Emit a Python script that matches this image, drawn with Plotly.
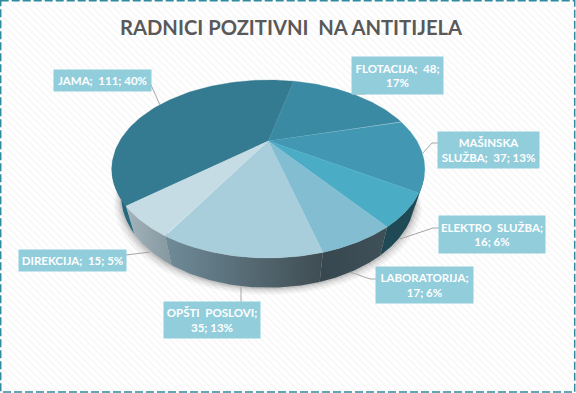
import numpy as np
import plotly.graph_objects as go

categories = ["JAMA", "FLOTACIJA", "MAŠINSKA SLUŽBA", "ELEKTRO SLUŽBA", "LABORATORIJA", "OPŠTI POSLOVI", "DIREKCIJA"]
values = [111, 48, 37, 16, 17, 35, 15]
percents = [40, 17, 13, 6, 6, 13, 5]
top_colors = ["#347A90", "#3A8AA3", "#4298B3", "#4BACC6", "#82BDD1", "#A8CDDB", "#C5DCE5"]
side_left = ["#1F5F73", "#1F5F73", "#1F4A55", "#1F4A55", "#36474F", "#6F8C99", "#A3B4BB"]
side_right = ["#2A7088", "#1F5F73", "#1F4A55", "#1F4A55", "#3F5058", "#3F4C52", "#85979F"]
label_text = ["JAMA;  111; 40%", "FLOTACIJA;  48;<br>17%", "MAŠINSKA<br>SLUŽBA;  37; 13%",
              "ELEKTRO  SLUŽBA;<br>16; 6%", "LABORATORIJA;<br>17; 6%", "OPŠTI  POSLOVI;<br>35; 13%",
              "DIREKCIJA;  15; 5%"]
label_boxes = [(54, 151, 70, 91), (352, 443, 57, 94), (438, 539, 132, 168), (439, 545, 216, 253),
               (376, 473, 267, 303), (164, 260, 302, 338), (19, 126, 250, 271)]
leaders = [[(151, 85), (160, 105)], [(352, 94), (365, 94)], [(438, 143), (432, 143), (422, 154)],
           [(439, 228), (433, 228), (400, 239)], [(376, 279), (370, 279), (350, 272)],
           [(241, 302), (241, 286)], [(126, 255), (150, 252)]]

CX, CY, A, B, K = 268.3, 141.0, 148.6, 80.2, -0.3146
START = -130.3
VIS = (112.0, 254.0)


def rim(deg):
    t = np.radians(deg)
    u, v = np.sin(t), -np.cos(t)
    d = 1 + K * v
    return CX + A * u / d, CY + B * v / d


def low(deg):
    x, y = rim(deg)
    return CX + 0.94 * (x - CX), y + 29 + (y - 235) * 0.03


fig = go.Figure()
W, H = 576, 393
# patterned chart background
fig.add_trace(go.Scatter(x=[0, W, W, 0, 0], y=[0, 0, H, H, 0], mode="lines", line=dict(width=0), fill="toself",
                         fillcolor="white",
                         fillpattern=dict(shape="\\", size=5, solidity=0.45, fgcolor="#F2F2F2", bgcolor="#FFFFFF"),
                         hoverinfo="skip", showlegend=False))

sweeps = np.array(values) / sum(values) * 360
bounds = START + np.concatenate([[0], np.cumsum(sweeps)])
arc = np.linspace(VIS[0], VIS[1], 120)

# soft shadow under the pie
for grow, alpha in [(7, 0.05), (5, 0.07), (3, 0.09), (1.5, 0.12)]:
    lx, ly = low(arc)
    fig.add_trace(go.Scatter(x=np.r_[CX + (lx - CX) * (1 + grow / 150), lx[::-1]],
                             y=np.r_[ly + grow, ly[::-1] - 30], mode="lines", line=dict(width=0), fill="toself",
                             fillcolor=f"rgba(60,60,60,{alpha})", hoverinfo="skip", showlegend=False))

# side wall of the slices
for i in range(len(values)):
    a0, a1 = bounds[i], bounds[i + 1]
    for s in (0, 360):
        lo, hi = max(a0 + s, VIS[0]), min(a1 + s, VIS[1])
        if hi <= lo:
            continue
        t = np.linspace(lo, hi, 50)
        tx, ty = rim(t)
        bx, by = low(t)
        fig.add_trace(go.Scatter(x=np.r_[tx, bx[::-1]], y=np.r_[ty, by[::-1]], mode="lines", line=dict(width=0),
                                 fill="toself", fillcolor=side_right[i],
                                 fillgradient=dict(type="horizontal",
                                                   colorscale=[[0, side_left[i]], [1, side_right[i]]]),
                                 hoverinfo="skip", showlegend=False))

# top faces
for i, name in enumerate(categories):
    t = np.linspace(bounds[i], bounds[i + 1], 90)
    x, y = rim(t)
    fig.add_trace(go.Scatter(x=np.r_[CX, x, CX], y=np.r_[CY, y, CY], mode="lines", line=dict(width=0.3, color=top_colors[i]),
                             fill="toself", fillcolor=top_colors[i], name=name, showlegend=False,
                             hovertext=f"{name}: {values[i]}; {percents[i]}%", hoverinfo="text"))

# leader lines
for pts in leaders:
    fig.add_trace(go.Scatter(x=[p[0] for p in pts], y=[p[1] for p in pts], mode="lines",
                             line=dict(color="#A6A6A6", width=1), hoverinfo="skip", showlegend=False))

# data labels
for txt, (x0, x1, y0, y1) in zip(label_text, label_boxes):
    fig.add_annotation(x=(x0 + x1) / 2, y=(y0 + y1) / 2, text=txt, showarrow=False, width=x1 - x0, height=y1 - y0,
                       bgcolor="#92CDDC", borderpad=0, align="center", valign="middle",
                       font=dict(family="Lato", size=11.5, color="white", weight="bold"))

fig.add_annotation(x=291, y=27, text="RADNICI POZITIVNI  NA ANTITIJELA", showarrow=False,
                   font=dict(family="Lato", size=20.2, color="#595959", weight="bold"))

fig.add_shape(type="rect", x0=0.7, y0=0.7, x1=574.7, y1=392, line=dict(color="#2E8BA0", width=1.5, dash="8px,3px"))

fig.update_layout(width=W, height=H, margin=dict(l=0, r=0, t=0, b=0), paper_bgcolor="white", plot_bgcolor="white",
                  xaxis=dict(range=[0, W], visible=False, fixedrange=True),
                  yaxis=dict(range=[H, 0], visible=False, fixedrange=True), showlegend=False)
fig.write_html("out.html", config=dict(displayModeBar=False),
               post_script="document.documentElement.style.overflow='hidden';document.body.style.margin='0';")
